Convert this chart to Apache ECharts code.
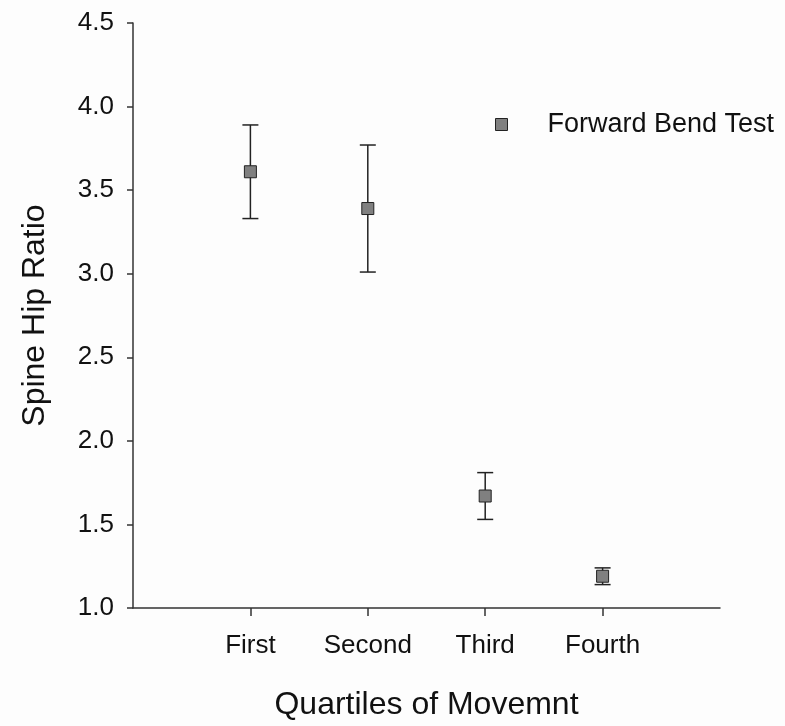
<!DOCTYPE html>
<html>
<head>
<meta charset="utf-8">
<script src="https://cdn.jsdelivr.net/npm/echarts@6/dist/echarts.min.js"></script>
<style>
html,body{margin:0;padding:0;background:#fdfdfd;}
#c{width:785px;height:726px;}
</style>
</head>
<body>
<div id="c"></div>
<script>
const categories = ['First', 'Second', 'Third', 'Fourth'];
const positions = [1, 2, 3, 4];
const means = [3.61, 3.39, 1.67, 1.19];
const upper = [3.89, 3.77, 1.81, 1.24];
const lower = [3.33, 3.01, 1.53, 1.14];
const yTicks = [1.0, 1.5, 2.0, 2.5, 3.0, 3.5, 4.0, 4.5];

const chart = echarts.init(document.getElementById('c'), null, {renderer: 'canvas'});
const FONT = 'Liberation Sans, Arial, sans-serif';
const INK = '#222';

const errData = positions.map((p, i) => [p, lower[i], upper[i]]);
const ptData = positions.map((p, i) => [p, means[i]]);

chart.setOption({
  backgroundColor: '#fdfdfd',
  animation: false,
  grid: {left: 133, right: 65, top: 23, bottom: 117, containLabel: false},
  legend: {
    data: ['Forward Bend Test'],
    left: 490, top: 106,
    icon: 'rect',
    itemWidth: 12, itemHeight: 12,
    itemStyle: {color: '#808080', borderColor: INK, borderWidth: 1},
    textStyle: {fontFamily: FONT, fontSize: 27, color: '#111', padding: [0, 0, 0, 35]}
  },
  xAxis: {
    type: 'value', min: 0, max: 5, interval: 1,
    name: 'Quartiles of Movemnt', nameLocation: 'middle', nameGap: 81,
    nameTextStyle: {fontFamily: FONT, fontSize: 32, color: '#111'},
    axisLine: {show: true, lineStyle: {color: '#333', width: 1.5}},
    axisTick: {show: true, length: 8, lineStyle: {color: '#333', width: 1.5}, customValues: positions},
    axisLabel: {fontFamily: FONT, fontSize: 26, color: '#111', margin: 25, customValues: positions,
      formatter: v => categories[positions.indexOf(v)] || ''},
    splitLine: {show: false}
  },
  yAxis: {
    type: 'value', min: 1.0, max: 4.5, interval: 0.5,
    name: 'Spine Hip Ratio', nameLocation: 'middle', nameGap: 82, nameRotate: 90,
    nameTextStyle: {fontFamily: FONT, fontSize: 32, color: '#111'},
    axisLine: {show: true, lineStyle: {color: '#333', width: 1.5}},
    axisTick: {show: true, length: 6, lineStyle: {color: '#333', width: 1.5}},
    axisLabel: {fontFamily: FONT, fontSize: 26, color: '#111', margin: 19,
      formatter: v => v.toFixed(1)},
    splitLine: {show: false}
  },
  series: [
    {
      type: 'custom',
      name: 'err',
      data: errData,
      z: 2,
      renderItem: function (params, api) {
        const x = api.value(0);
        const lo = api.coord([x, api.value(1)]);
        const hi = api.coord([x, api.value(2)]);
        const hw = 8;
        const style = {stroke: INK, lineWidth: 1.5};
        return {
          type: 'group',
          children: [
            {type: 'line', shape: {x1: lo[0], y1: lo[1], x2: hi[0], y2: hi[1]}, style},
            {type: 'line', shape: {x1: lo[0] - hw, y1: lo[1], x2: lo[0] + hw, y2: lo[1]}, style},
            {type: 'line', shape: {x1: hi[0] - hw, y1: hi[1], x2: hi[0] + hw, y2: hi[1]}, style}
          ]
        };
      }
    },
    {
      type: 'scatter',
      name: 'Forward Bend Test',
      data: ptData,
      symbol: 'rect',
      symbolSize: 12,
      z: 3,
      itemStyle: {color: '#808080', borderColor: INK, borderWidth: 1, opacity: 1}
    }
  ]
});
</script>
</body>
</html>
